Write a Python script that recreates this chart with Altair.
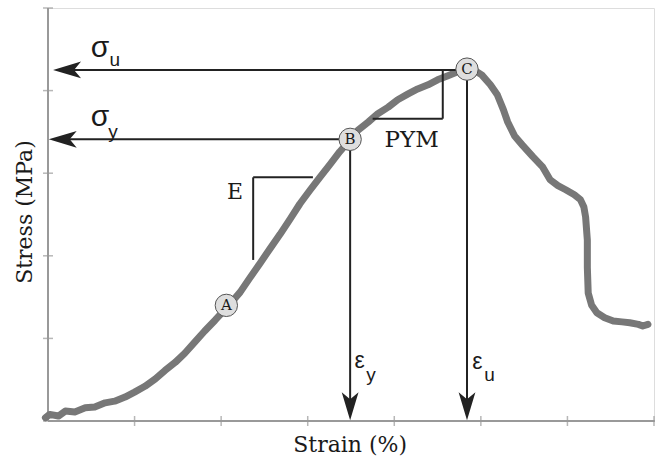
import altair as alt
import pandas as pd

# stress-strain curve (arbitrary units)
strain = [-0.03, 0.02, 0.12, 0.20, 0.31, 0.43, 0.54, 0.66, 0.77, 0.89, 1.00, 1.12, 1.24, 1.35,
          1.47, 1.58, 1.70, 1.81, 1.93, 2.08, 2.22, 2.33, 2.45, 2.56, 2.68, 2.80, 2.91, 3.03,
          3.14, 3.26, 3.37, 3.47, 3.58, 3.70, 3.81, 3.93, 4.04, 4.16, 4.27, 4.39, 4.50, 4.62,
          4.74, 4.83, 4.92, 5.01, 5.11, 5.19, 5.26, 5.31, 5.39, 5.48, 5.60, 5.71, 5.80, 5.89,
          5.98, 6.08, 6.15, 6.19, 6.21, 6.23, 6.23, 6.24, 6.28, 6.34, 6.43, 6.53, 6.63, 6.72,
          6.82, 6.87, 6.93]
stress = [0.04, 0.08, 0.06, 0.12, 0.11, 0.16, 0.17, 0.22, 0.24, 0.29, 0.35, 0.42, 0.51, 0.61,
          0.71, 0.82, 0.96, 1.09, 1.22, 1.39, 1.56, 1.73, 1.91, 2.08, 2.26, 2.45, 2.63, 2.80,
          2.95, 3.11, 3.26, 3.38, 3.52, 3.62, 3.72, 3.80, 3.89, 3.96, 4.02, 4.07, 4.13, 4.18,
          4.23, 4.25, 4.25, 4.19, 4.07, 3.95, 3.77, 3.62, 3.45, 3.34, 3.20, 3.08, 2.92, 2.85,
          2.80, 2.74, 2.68, 2.59, 2.47, 2.19, 1.86, 1.55, 1.40, 1.31, 1.25, 1.21, 1.20, 1.19,
          1.17, 1.15, 1.17]

# key points A, B, C
pt_label = ["A", "B", "C"]
pt_x = [2.06, 3.49, 4.84]
pt_y = [1.40, 3.41, 4.26]

# guide segments (sigma_u, sigma_y, eps_y, eps_u)
seg_x = [0.22, 0.17, 3.49, 4.84]
seg_x2 = [4.84, 3.49, 3.49, 4.84]
seg_y = [4.25, 3.41, 3.41, 4.26]
seg_y2 = [4.25, 3.41, 0.18, 0.18]

# slope triangles (E and PYM)
tri_x = [2.37, 2.37, 4.56, 3.75]
tri_x2 = [2.37, 3.06, 4.56, 4.56]
tri_y = [2.95, 2.95, 4.25, 3.66]
tri_y2 = [1.95, 2.95, 3.66, 3.66]

# arrow heads
left_x = [0.22, 0.17]
left_y = [4.25, 3.41]
down_x = [3.49, 4.84]
down_y = [0.18, 0.18]

# axes (drawn as marks)
axis_x = [0, 0]
axis_x2 = [7.01, 0]
axis_y = [0, 0]
axis_y2 = [0, 5]
xticks = [1, 2, 3, 4, 5, 6, 7]
yticks = [0, 1, 2, 3, 4, 5]

# axis titles
title_text = ["Strain (%)", "Stress (MPa)"]
title_x = [3.49, -0.27]
title_y = [-0.29, 2.53]
title_angle = [0, 270]

# labels
sans_text = ["σ", "u", "σ", "y", "ε", "y", "ε", "u"]
sans_x = [0.60, 0.77, 0.60, 0.75, 3.60, 3.73, 4.96, 5.10]
sans_y = [4.52, 4.37, 3.68, 3.50, 0.73, 0.56, 0.71, 0.56]
sans_fs = [30, 19, 30, 19, 23, 19, 23, 19]

serif_text = ["E", "PYM", "A", "B", "C"]
serif_x = [2.16, 4.20, 2.06, 3.49, 4.84]
serif_y = [2.77, 3.40, 1.40, 3.41, 4.26]
serif_fs = [22, 23, 15, 15, 15]

xs = alt.Scale(domain=[0, 7], nice=False, zero=False)
ys = alt.Scale(domain=[0, 5], nice=False, zero=False)


def X(f):
    return alt.X(f, scale=xs, axis=None)


def Y(f):
    return alt.Y(f, scale=ys, axis=None)


axes_df = pd.DataFrame({"x": axis_x, "x2": axis_x2, "y": axis_y, "y2": axis_y2})
axes = alt.Chart(axes_df).mark_rule(color="#999", strokeWidth=2).encode(
    x=X("x:Q"), x2="x2", y=Y("y:Q"), y2="y2")

xt = alt.Chart(pd.DataFrame({"v": xticks, "z": [0] * len(xticks)})).mark_tick(
    orient="vertical", size=10, thickness=1.5, color="#999").encode(x=X("v:Q"), y=Y("z:Q"))
yt = alt.Chart(pd.DataFrame({"v": yticks, "z": [0] * len(yticks)})).mark_tick(
    orient="horizontal", size=10, thickness=1.5, color="#999").encode(y=Y("v:Q"), x=X("z:Q"))

curve_df = pd.DataFrame({"strain": strain, "stress": stress, "order": list(range(len(strain)))})
curve = alt.Chart(curve_df).mark_line(color="#777777", strokeWidth=7, strokeJoin="round",
                                      strokeCap="round", clip=False).encode(
    x=X("strain:Q"), y=Y("stress:Q"), order="order:Q")

seg_df = pd.DataFrame({"x": seg_x, "x2": seg_x2, "y": seg_y, "y2": seg_y2})
segs = alt.Chart(seg_df).mark_rule(color="#222", strokeWidth=2).encode(
    x=X("x:Q"), x2="x2", y=Y("y:Q"), y2="y2")

tri_df = pd.DataFrame({"x": tri_x, "x2": tri_x2, "y": tri_y, "y2": tri_y2})
tris = alt.Chart(tri_df).mark_rule(color="#222", strokeWidth=2).encode(
    x=X("x:Q"), x2="x2", y=Y("y:Q"), y2="y2")

left_head = alt.Chart(pd.DataFrame({"x": left_x, "y": left_y})).mark_point(
    shape="M-1,0L1,-0.6L0.5,0L1,0.6Z", filled=True, size=784, color="#222", opacity=1,
    strokeWidth=0).encode(x=X("x:Q"), y=Y("y:Q"))
down_head = alt.Chart(pd.DataFrame({"x": down_x, "y": down_y})).mark_point(
    shape="M0,1L-0.6,-1L0,-0.5L0.6,-1Z", filled=True, size=784, color="#222", opacity=1,
    strokeWidth=0).encode(x=X("x:Q"), y=Y("y:Q"))

circles = alt.Chart(pd.DataFrame({"x": pt_x, "y": pt_y, "l": pt_label})).mark_point(
    shape="circle", filled=True, fill="#dedede", stroke="#555", strokeWidth=1, size=500,
    opacity=1).encode(x=X("x:Q"), y=Y("y:Q"))

sans = alt.Chart(pd.DataFrame({"t": sans_text, "x": sans_x, "y": sans_y, "fs": sans_fs})).mark_text(
    font="Liberation Sans", color="#1a1a1a", align="center", baseline="middle").encode(
    x=X("x:Q"), y=Y("y:Q"), text="t:N", size=alt.Size("fs:Q", scale=None, legend=None))

serif = alt.Chart(pd.DataFrame({"t": serif_text, "x": serif_x, "y": serif_y, "fs": serif_fs})).mark_text(
    font="DejaVu Serif", color="#1a1a1a", align="center", baseline="middle").encode(
    x=X("x:Q"), y=Y("y:Q"), text="t:N", size=alt.Size("fs:Q", scale=None, legend=None))

titles = alt.Chart(pd.DataFrame({"t": title_text, "x": title_x, "y": title_y, "a": title_angle})).mark_text(
    font="DejaVu Serif", fontSize=22, color="#1a1a1a", align="center", baseline="middle").encode(
    x=X("x:Q"), y=Y("y:Q"), text="t:N", angle=alt.Angle("a:Q", scale=None))

chart = alt.layer(axes, xt, yt, curve, tris, segs, left_head, down_head, circles, sans, serif,
                  titles).properties(
    width=606, height=413, autosize=alt.AutoSizeParams(type="none"),
    padding={"left": 48, "top": 8, "right": 4, "bottom": 40},
).configure_view(strokeWidth=0).configure(background="white")

chart.save("out.html", embed_options={"renderer": "svg", "actions": False})
